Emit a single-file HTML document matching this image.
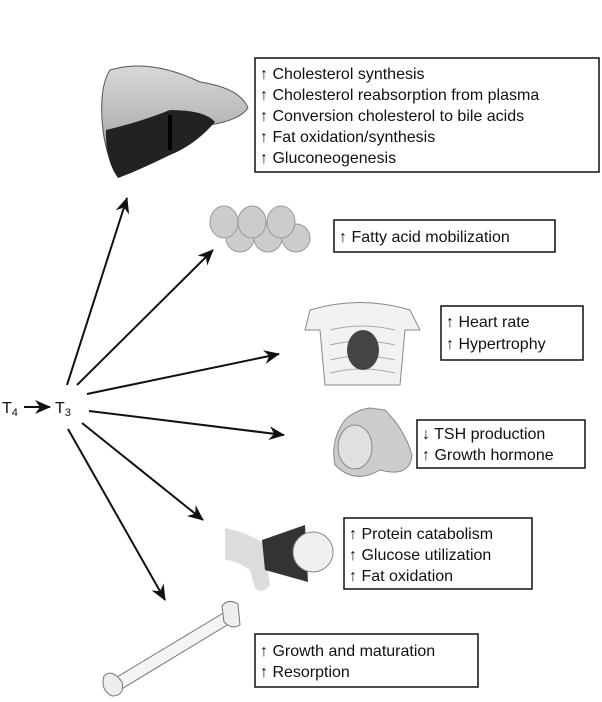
<!DOCTYPE html>
<html><head><style>
body{margin:0;background:#fff;width:602px;height:702px;overflow:hidden}
svg{display:block}
text{font-family:"Liberation Sans",sans-serif;font-size:16px;fill:#111}
</style></head><body>
<svg width="602" height="702" viewBox="0 0 602 702">
<defs>
<marker id="a" markerWidth="16" markerHeight="14" refX="15" refY="7" orient="auto" markerUnits="userSpaceOnUse" viewBox="0 0 16 14"><path d="M0,0 L16,7 L0,14 L5,7z" fill="#111"/></marker>
<linearGradient id="g" x1="0" y1="0" x2="0" y2="1"><stop offset="0" stop-color="#d8d8d8"/><stop offset="1" stop-color="#999"/></linearGradient>
</defs>
<!-- liver -->
<path d="M110,70 Q150,58 200,82 Q240,88 248,108 Q240,120 210,125 Q195,140 175,150 Q140,170 120,175 Q105,160 102,120 Q100,85 110,70z" fill="url(#g)" stroke="#555"/>
<path d="M106,130 Q140,122 170,110 Q205,110 215,122 Q195,145 170,155 Q135,172 118,178 Q105,160 106,130z" fill="#222"/>
<path d="M170,115 L170,150" stroke="#000" stroke-width="4"/>
<!-- fat cells -->
<g fill="#ccc" stroke="#999">
<ellipse cx="240" cy="238" rx="14" ry="14"/><ellipse cx="268" cy="238" rx="14" ry="14"/><ellipse cx="296" cy="238" rx="14" ry="14"/>
<ellipse cx="224" cy="222" rx="14" ry="16"/><ellipse cx="252" cy="222" rx="14" ry="16"/><ellipse cx="281" cy="222" rx="14" ry="16"/>
</g>
<!-- chest/heart -->
<path d="M310,310 Q360,295 410,310 L420,330 L405,330 L400,385 L325,385 L320,330 L305,330z" fill="#f2f2f2" stroke="#888"/>
<g stroke="#aaa" fill="none"><path d="M330,330 Q362,322 395,330"/><path d="M330,345 Q362,337 395,345"/><path d="M330,360 Q362,352 395,360"/><path d="M330,373 Q362,365 395,373"/></g>
<ellipse cx="363" cy="350" rx="16" ry="20" fill="#444"/>
<!-- pituitary -->
<path d="M345,420 Q330,440 335,465 Q355,485 380,470 Q410,478 412,455 Q405,430 385,410 L370,408 Q355,410 345,420z" fill="#ccc" stroke="#888"/>
<ellipse cx="355" cy="447" rx="17" ry="22" fill="#e0e0e0" stroke="#888"/>
<!-- muscle -->
<path d="M225,528 Q255,535 265,545 L270,585 Q262,595 255,588 L250,570 Q235,560 225,560z" fill="#ddd"/>
<path d="M262,540 L305,525 L308,582 L265,570z" fill="#333"/>
<circle cx="313" cy="552" r="20" fill="#f0f0f0" stroke="#888"/>
<!-- bone -->
<path d="M112,680 L225,612 L232,622 L120,690z" fill="#f4f4f4" stroke="#777"/>
<path d="M222,606 Q228,598 238,604 L240,625 Q232,630 224,622z" fill="#eee" stroke="#777"/>
<path d="M104,676 Q112,668 122,682 Q125,696 112,696 Q100,690 104,676z" fill="#eee" stroke="#777"/>
<!-- labels -->
<text x="2" y="413">T<tspan font-size="11" dy="3">4</tspan></text>
<text x="55" y="413">T<tspan font-size="11" dy="3">3</tspan></text>
<g stroke="#111" stroke-width="2" fill="none" marker-end="url(#a)">
<line x1="24" y1="407" x2="50" y2="407"/>
<line x1="67" y1="385" x2="127" y2="198"/>
<line x1="77" y1="385" x2="213" y2="250"/>
<line x1="87" y1="394" x2="279" y2="354"/>
<line x1="89" y1="411" x2="284" y2="435"/>
<line x1="82" y1="423" x2="203" y2="520"/>
<line x1="68" y1="429" x2="165" y2="600"/>
</g>
<g fill="none" stroke="#111" stroke-width="1.5">
<rect x="255" y="58" width="344" height="114"/>
<rect x="334" y="220" width="221" height="32"/>
<rect x="441" y="306" width="142" height="54"/>
<rect x="417" y="420" width="168" height="48"/>
<rect x="344" y="518" width="188" height="71"/>
<rect x="255" y="634" width="223" height="53"/>
</g>
<text x="260" y="79">↑ Cholesterol synthesis</text>
<text x="260" y="100">↑ Cholesterol reabsorption from plasma</text>
<text x="260" y="121">↑ Conversion cholesterol to bile acids</text>
<text x="260" y="142">↑ Fat oxidation/synthesis</text>
<text x="260" y="163">↑ Gluconeogenesis</text>
<text x="339" y="242">↑ Fatty acid mobilization</text>
<text x="446" y="327">↑ Heart rate</text>
<text x="446" y="349">↑ Hypertrophy</text>
<text x="422" y="439">↓ TSH production</text>
<text x="422" y="460">↑ Growth hormone</text>
<text x="349" y="539">↑ Protein catabolism</text>
<text x="349" y="560">↑ Glucose utilization</text>
<text x="349" y="581">↑ Fat oxidation</text>
<text x="260" y="656">↑ Growth and maturation</text>
<text x="260" y="677">↑ Resorption</text>
</svg>
</body></html>
